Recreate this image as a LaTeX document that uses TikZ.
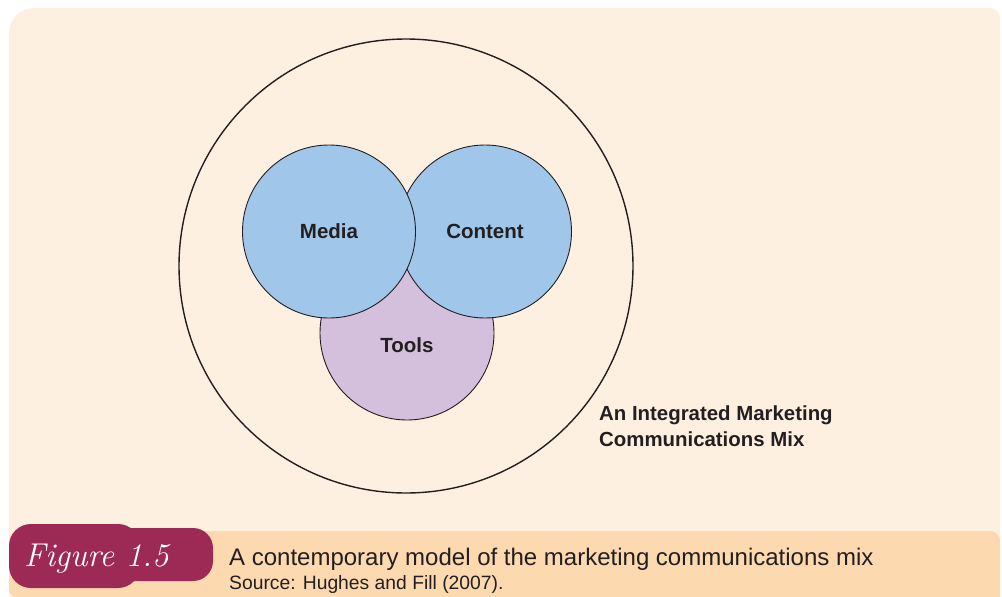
\documentclass[tikz,border=0pt]{standalone}
\usepackage{fontspec}
\newfontfamily\lblfont{Liberation Sans}
\newfontfamily\capfont{Liberation Sans}
\definecolor{panelc}{HTML}{FEF0E1}
\definecolor{stripc}{HTML}{FDD9B0}
\definecolor{badgec}{HTML}{9C2A55}
\definecolor{bluec}{HTML}{A0C7EA}
\definecolor{lilacc}{HTML}{D4BFDC}
\definecolor{inkc}{HTML}{231F20}
\tikzset{
  venn/.style={circle, draw=inkc, line width=0.9pt, inner sep=0pt},
  vennlbl/.style={font=\lblfont\bfseries\fontsize{20.5}{25}\selectfont, text=inkc},
  capline/.style={anchor=base west, inner sep=0pt, text=inkc},
}
\begin{document}
\begin{tikzpicture}[x=1pt,y=-1pt]
\useasboundingbox (0,0) rectangle (1002,597);
% panels
\fill[panelc] (9,597) [rounded corners=25pt] -- (9,8) [rounded corners=10pt] -- (1000,8) [sharp corners] -- (1000,597) -- cycle;
\fill[stripc] (1000,597) [rounded corners=10pt] -- (1000,531) -- (9,531) [rounded corners=8pt] -- (9,597) [sharp corners] -- cycle;
% badge
\fill[badgec, rounded corners=22pt] (9,524) rectangle (140,588);
\fill[badgec, rounded corners=20pt] (100,528) rectangle (213,581);
\node[anchor=base west, inner sep=0pt, text=white, font=\fontsize{33}{36}\selectfont\itshape] (figlbl) at (24,566) {Figure 1.5};
% caption
\node[capline, font=\capfont\fontsize{24}{28}\selectfont] (cap1) at (229,565) {A contemporary model of the marketing communications mix};
\node[capline, font=\capfont\fontsize{19.3}{22}\selectfont] (cap2) at (229,589) {Source: Hughes and Fill (2007).};
% circles
\node[circle, draw=inkc, line width=1.4pt, minimum size=454pt, inner sep=0pt] (outer) at (406,266) {};
\node[venn, fill=lilacc, minimum size=174pt] (tools) at (407,333) {};
\node[venn, fill=bluec, minimum size=173pt] (content) at (485,231.5) {};
\node[venn, fill=bluec, minimum size=173pt] (media) at (329,231.5) {};
\node[vennlbl] (medialbl) at (media.center) {Media};
\node[vennlbl] (contentlbl) at (content.center) {Content};
\node[vennlbl] (toolslbl) at (407,345) {Tools};
\node[anchor=base west, inner sep=0pt, align=left, text=inkc, font=\lblfont\bfseries\fontsize{20.4}{26.5}\selectfont] (imc) at (599,446.5) {An Integrated Marketing\\Communications Mix};
\end{tikzpicture}
\end{document}
